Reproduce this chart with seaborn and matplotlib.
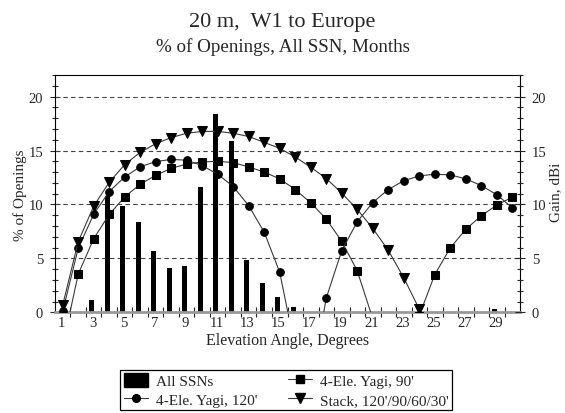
import numpy as np
import pandas as pd
import matplotlib
matplotlib.use("Agg")
import matplotlib.pyplot as plt
import seaborn as sns
from matplotlib.patches import Patch
from matplotlib.lines import Line2D

# ---------------- data ----------------
angles = list(range(1, 31))
pct_openings = [0, 0, 1.14, 10.8, 9.9, 8.4, 5.66, 4.09, 4.28, 11.6,
                18.37, 15.9, 4.86, 2.74, 1.42, 0.49, 0, 0, 0, 0,
                0, 0, 0, 0, 0, 0, 0, 0, 0.28, 0]
yagi_120 = [0.1, 5.94, 9.1, 11.2, 12.55, 13.5, 13.97, 14.18, 14.1, 13.6,
            12.8, 11.66, 9.88, 7.42, 3.7, -3.4, -6.9, 1.32, 5.72, 8.4,
            10.18, 11.38, 12.2, 12.65, 12.8, 12.74, 12.37, 11.75, 10.9, 9.7]
yagi_90 = [-3.1, 3.54, 6.83, 9.08, 10.7, 11.88, 12.7, 13.35, 13.75, 13.94,
           14.0, 13.88, 13.48, 13.0, 12.37, 11.38, 10.15, 8.65, 6.58, 3.85,
           -0.6, -6.0, -4.0, -0.3, 3.5, 5.97, 7.7, 8.95, 9.94, 10.68]
stack = [0.68, 6.55, 9.85, 12.06, 13.7, 14.83, 15.63, 16.2, 16.6, 16.77,
         16.77, 16.6, 16.3, 15.75, 15.2, 14.4, 13.45, 12.4, 11.05, 9.54,
         7.78, 5.75, 3.2, 0.3, -4.0, -8.0, -10.0, -10.0, -10.0, -10.0]
tick_labels = [str(a) for a in angles if a % 2 == 1]

title = "20 m,  W1 to Europe"
subtitle = "% of Openings, All SSN, Months"
names = ["All SSNs", "4-Ele. Yagi, 90'", "4-Ele. Yagi, 120'", "Stack, 120'/90/60/30'"]

# ---------------- style ----------------
sns.set_style("ticks")
plt.rcParams['font.family'] = ['Liberation Serif', 'DejaVu Serif']
plt.rcParams['font.size'] = 10.5

fig = plt.figure(figsize=(5.65, 4.14), dpi=100)
ax = fig.add_axes([0.0973, 0.2432, 0.8231, 0.5732])

bar_shift = -0.13
ang = np.array(angles, dtype=float)

sns.barplot(x=ang + bar_shift, y=pct_openings, native_scale=True, width=0.33,
            color="black", saturation=1, edgecolor="black", linewidth=0,
            ax=ax, zorder=2, legend=False)

line_col = "#3a3a3a"
mk = dict(markerfacecolor="black", markeredgecolor="black")
sns.lineplot(x=ang, y=yagi_90, marker="s", markersize=5.5, color=line_col,
             linewidth=0.8, ax=ax, zorder=3, legend=False, **mk)
sns.lineplot(x=ang, y=yagi_120, marker="o", markersize=5.5, color=line_col,
             linewidth=0.8, ax=ax, zorder=3, legend=False, **mk)
sns.lineplot(x=ang, y=stack, marker="v", markersize=6.5, color=line_col,
             linewidth=0.8, ax=ax, zorder=3, legend=False, **mk)

ax.set_xlim(0.5, 30.5)
ax.set_ylim(0, 22)

# x ticks: labels under bars, small marks at category borders
odd = [a for a in angles if a % 2 == 1]
ax.set_xticks(np.array(odd, dtype=float) - 0.08)
ax.set_xticklabels(tick_labels)
ax.set_xticks(np.arange(1.5, 30.5, 1.0), minor=True)
ax.tick_params(axis="x", which="major", length=0, pad=3, labelsize=10.5)
ax.tick_params(axis="x", which="minor", direction="inout", length=7, width=0.8, color="#222222")

yt = [0, 5, 10, 15, 20]
ax.set_yticks(yt)
ax.set_yticks(np.arange(0, 23, 1), minor=True)
ax.tick_params(axis="y", which="major", direction="inout", length=7, width=0.8, pad=5, labelsize=10.5)
ax.tick_params(axis="y", which="minor", direction="inout", length=4, width=0.8)

for v in [5, 10, 15, 20]:
    ax.axhline(v, color="#444444", lw=0.8, ls=(0, (4, 3)), zorder=1)

for s in ["left", "right", "top"]:
    ax.spines[s].set_color("black")
    ax.spines[s].set_linewidth(0.8)
ax.spines["bottom"].set_color("#999999")
ax.spines["bottom"].set_linewidth(2)

ax.set_xlabel("Elevation Angle, Degrees", fontsize=11.5, labelpad=2)
ax.set_ylabel("")
fig.text(20 / 565, 1 - 195 / 414, "% of Openings", rotation=90, ha="center",
         va="center", fontsize=11)

ax2 = ax.twinx()
ax2.set_ylim(0, 22)
ax2.set_yticks(yt)
ax2.set_yticks(np.arange(0, 23, 1), minor=True)
ax2.tick_params(axis="y", which="major", direction="inout", length=7, width=0.8, pad=5, labelsize=10.5)
ax2.tick_params(axis="y", which="minor", direction="inout", length=4, width=0.8)
ax2.set_ylabel("")
for s in ["left", "right", "top", "bottom"]:
    ax2.spines[s].set_visible(False)
fig.text(556 / 565, 1 - 192 / 414, "Gain, dBi", rotation=90, ha="center",
         va="center", fontsize=11)

fig.text(0.5, 1 - 22 / 414, title, ha="center", va="center", fontsize=16)
fig.text(0.5, 1 - 47 / 414, subtitle, ha="center", va="center", fontsize=13.7)

handles = [
    Patch(facecolor="black", edgecolor="black"),
    Line2D([], [], color=line_col, lw=0.8, marker="o", markersize=5.5, **mk),
    Line2D([], [], color=line_col, lw=0.8, marker="s", markersize=5.5, **mk),
    Line2D([], [], color=line_col, lw=0.8, marker="v", markersize=6.5, **mk),
]
labels = [names[0], names[2], names[1], names[3]]
leg = fig.legend(handles, labels, ncol=2, loc="upper center",
                 bbox_to_anchor=(286 / 565, 1 - 371 / 414), frameon=True, fancybox=False,
                 edgecolor="black", framealpha=1, fontsize=11, borderpad=0.2,
                 handlelength=1.6, handleheight=1.0, columnspacing=2.0,
                 labelspacing=0.25, handletextpad=0.5, borderaxespad=0)
leg.get_frame().set_linewidth(0.9)

fig.savefig("out.png", dpi=100)
